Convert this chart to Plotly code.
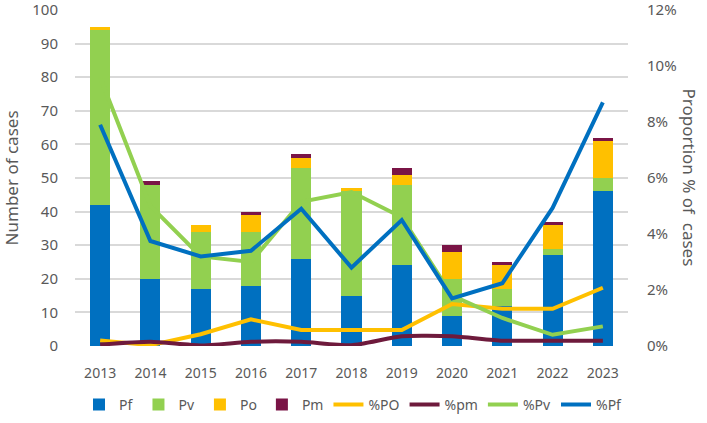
import plotly.graph_objects as go

years = ["2013", "2014", "2015", "2016", "2017", "2018", "2019", "2020", "2021", "2022", "2023"]
pf = [42, 20, 17, 18, 26, 15, 24, 9, 12, 27, 46]
pv = [52, 28, 17, 16, 27, 31, 24, 11, 5, 2, 4]
po = [1, 0, 2, 5, 3, 1, 3, 8, 7, 7, 11]
pm = [0, 1, 0, 1, 1, 0, 2, 2, 1, 1, 1]

pct_po = [0.2, 0.03, 0.42, 0.95, 0.57, 0.57, 0.57, 1.5, 1.33, 1.33, 2.08]
pct_pm = [0.05, 0.15, 0.02, 0.15, 0.15, 0.03, 0.35, 0.35, 0.19, 0.19, 0.19]
pct_pv = [9.6, 5.0, 3.2, 3.0, 5.15, 5.5, 4.6, 1.8, 1.0, 0.4, 0.7]
pct_pf = [7.9, 3.75, 3.2, 3.4, 4.9, 2.8, 4.5, 1.7, 2.24, 4.93, 8.7]

C_PF = "#0070C0"
C_PV = "#92D050"
C_PO = "#FFC000"
C_PM = "#7A1446"
C_PM_LINE = "#6E1A3C"
GREY = "#595959"
FONT = "Noto Sans"

fig = go.Figure()
for name, vals, col in [("Pf", pf, C_PF), ("Pv", pv, C_PV), ("Po", po, C_PO), ("Pm", pm, C_PM)]:
    fig.add_trace(go.Bar(x=years, y=vals, name=name, marker=dict(color=col, line=dict(width=0)),
                         width=0.4, yaxis="y"))

for name, vals, col, shape in [("%PO", pct_po, C_PO, "linear"), ("%pm", pct_pm, C_PM_LINE, "spline"),
                               ("%Pv", pct_pv, C_PV, "linear"), ("%Pf", pct_pf, C_PF, "linear")]:
    fig.add_trace(go.Scatter(x=years, y=vals, name=name, mode="lines", yaxis="y2",
                             line=dict(color=col, width=4, shape=shape, smoothing=0.6)))

fig.update_layout(
    width=707, height=423,
    margin=dict(l=75, r=79, t=10, b=77, autoexpand=False),
    barmode="stack",
    plot_bgcolor="white", paper_bgcolor="white",
    font=dict(family=FONT, color=GREY, size=14),
    xaxis=dict(showgrid=False, showline=False, ticks="", tickfont=dict(size=14, color=GREY),
               ticklabelstandoff=17),
    yaxis=dict(range=[0, 100], dtick=10, showgrid=True, gridcolor="#D9D9D9", gridwidth=1.5,
               zeroline=False, showline=False, ticks="", tickfont=dict(size=15, color=GREY),
               ticklabelstandoff=16, ticklabeloverflow="allow"),
    yaxis2=dict(range=[0, 12], dtick=2, ticksuffix="%", overlaying="y", side="right",
                showgrid=False, zeroline=False, showline=False, ticks="",
                tickfont=dict(size=15, color=GREY), ticklabelstandoff=18,
                ticklabeloverflow="allow"),
    legend=dict(orientation="h", x=0.5, xanchor="center", xref="container",
                y=0.043, yanchor="middle", yref="container",
                font=dict(size=14, color=GREY), itemwidth=30, traceorder="normal"),
    showlegend=True,
    annotations=[
        dict(text="Number of cases", textangle=-90, xref="paper", yref="paper",
             x=-0.115, y=0.5, xanchor="center", yanchor="middle", showarrow=False,
             font=dict(size=17, color=GREY, family=FONT)),
        dict(text="Proportion % of  cases", textangle=90, xref="paper", yref="paper",
             x=1.113, y=0.5, xanchor="center", yanchor="middle", showarrow=False,
             font=dict(size=17, color=GREY, family=FONT)),
    ],
)

fig.write_html("out.html")
